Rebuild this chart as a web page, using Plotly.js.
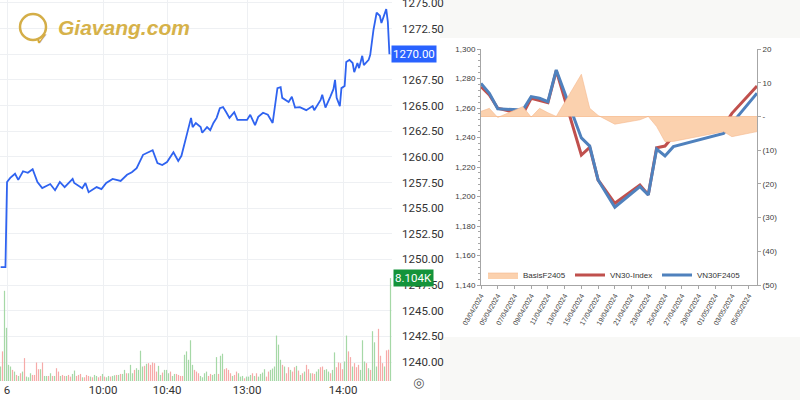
<!DOCTYPE html>
<html>
<head>
<meta charset="utf-8">
<script src="https://cdn.plot.ly/plotly-3.0.1.min.js"></script>
<style>
  html, body { margin: 0; padding: 0; background: #fff; }
  #chart { width: 800px; height: 400px; }
</style>
</head>
<body>
<div id="chart"></div>
<script>
// ---- left panel: intraday VN30F price (minute index from 9:00) ----
const priceMin = [-4, -1, 0, 2, 5, 7, 10, 13, 16, 19, 22, 27, 30, 33, 36, 41, 42, 47, 49, 51, 56, 59, 62, 66, 71, 75, 78, 81, 85, 88,
  91, 94, 97, 100, 104, 107, 109, 112, 115, 116, 118, 121, 122, 125, 127, 129, 131, 133, 135, 137, 139, 142, 144, 150, 152, 155, 157, 160, 163, 166,
  169, 171, 172, 176, 178, 180, 183, 187, 191, 192, 196, 197, 199, 202, 204, 205, 206, 208, 209, 211, 212, 214, 216, 217, 219, 220, 222, 223, 226, 227,
  229, 231, 233, 234, 237, 238, 239];
const priceVal = [1249.25, 1249.25, 1257.55, 1257.95, 1258.35, 1257.75, 1258.6, 1258.45, 1258.8, 1257.55, 1256.95, 1257.35, 1256.75, 1257.55, 1257.05, 1257.85, 1257.45, 1256.95, 1257.45, 1256.55, 1257.05, 1256.85, 1257.45, 1257.85, 1257.65, 1258.25, 1258.5, 1258.9, 1260.2, 1260.4,
  1260.65, 1259.4, 1259.2, 1259.5, 1260.45, 1259.6, 1260.1, 1261.95, 1263.8, 1262.9, 1263.3, 1262.9, 1262.35, 1262.9, 1262.6, 1263.3, 1263.8, 1264.75, 1264.85, 1264.35, 1263.8, 1264.35, 1263.6, 1263.6, 1264.1, 1263.1, 1263.9, 1264.3, 1264.1, 1263.3,
  1266.7, 1266.8, 1265.75, 1265.35, 1265.85, 1264.8, 1264.85, 1264.55, 1264.95, 1264.55, 1265.55, 1266.05, 1264.8, 1265.85, 1266.6, 1267.5, 1265.75, 1264.95, 1266.7, 1266.9, 1269.25, 1269.45, 1269.15, 1268.25, 1269.15, 1268.65, 1269.85, 1268.95, 1269.45, 1269.95,
  1272.35, 1274.05, 1273.75, 1273.05, 1274.4, 1273.15, 1270.0];

const timeTickVals = [0, 60, 100, 150, 210];
const timeTickText = ['6', '10:00', '10:40', '13:00', '14:00'];
const priceTicks = [1240, 1242.5, 1245, 1247.5, 1250, 1252.5, 1255, 1257.5, 1260, 1262.5, 1265, 1267.5, 1270, 1272.5, 1275];

// volume per bar (bar index), g = up bar, r = down bar
const volume = [1140, 2332, 7102, 4187, 1272, 1140, 875, 742, 477, 398, 610, 742, 1802, 345, 292, 610, 477, 477, 1458, 928,
  928, 1458, 398, 398, 398, 610, 398, 398, 1007, 742, 398, 477, 398, 398, 477, 345, 557, 822, 398, 477,
  557, 292, 292, 477, 398, 345, 292, 477, 398, 292, 398, 557, 345, 292, 398, 345, 398, 451, 477, 477,
  557, 557, 875, 610, 610, 1272, 610, 875, 1007, 875, 2385, 1140, 1193, 1352, 1405, 1272, 1458, 1405, 742, 1193,
  477, 663, 875, 875, 610, 742, 398, 557, 557, 477, 398, 398, 2067, 2332, 1670, 3207, 1272,
  875, 742, 610, 398, 292, 610, 742, 398, 557, 477, 557, 1882, 557, 1988, 2147, 928, 1007, 875, 610, 398,
  477, 742, 610, 345, 398, 212, 345, 345, 477, 610, 398, 610, 345, 557, 663, 928, 345, 742, 875, 981,
  1140, 3578, 2862, 1670, 1272, 1140, 610, 1087, 875, 742, 1087, 1193, 822, 477, 610, 742, 1272, 928, 610, 610,
  557, 742, 928, 1087, 1140, 875, 928, 742, 610, 875, 2253, 1087, 1458, 1405, 928, 1537, 3578, 2332, 1882, 1140,
  1405, 1087, 1272, 875, 3207, 1537, 1405, 1007, 875, 3922, 3048, 1140, 4108, 1988, 1405, 1140, 2412, 2465, 8104];
const volumeDir = ('grggggrgrg' + 'rgrgggrrrr' + 'grggrgrgrr' + 'grrgrrggrr' + 'rgrrrgrggr' + 'rgrggrggrg' + 'rggrgggrgg' + 'ggrgrrrrrg' + 'grgggrggrr' + 'rrggggg' +
  'rrrggggrrg' + 'ggrggrrrrg' + 'rrgggrgggr' + 'grggggrrgg' + 'ggggrgrrgr' + 'rgrgrgrrgr' + 'rggrrgggrg' + 'grrrrggrrg' + 'rrrgggrgrg' + 'ggrrrgrrg').split('');

// ---- right panel: VN30-Index vs VN30F2405 ----
const dates = ['2024-04-03', '2024-04-04', '2024-04-05', '2024-04-08', '2024-04-09', '2024-04-10', '2024-04-11', '2024-04-12', '2024-04-15', '2024-04-16',
  '2024-04-17', '2024-04-19', '2024-04-22', '2024-04-23', '2024-04-24', '2024-04-25', '2024-04-26', '2024-05-02', '2024-05-03', '2024-05-06'];
const vn30Index = [1274.4, 1268.8, 1259.8, 1255.9, 1266.6, 1265.0, 1263.6, 1285.3, 1228.1, 1233.3,
  1211.2, 1195.4, 1207.8, 1201.2, 1233.1, 1234.2, 1241.0, 1247.8, 1256.4, 1274.9];
const vn30F2405 = [1276.7, 1270.0, 1259.5, 1258.6, 1267.7, 1266.6, 1264.3, 1285.8, 1239.7, 1234.2,
  1211.2, 1192.7, 1206.7, 1201.0, 1232.2, 1227.5, 1233.8, 1242.8, 1249.6, 1270.0];
const basis = [1.5, 2.4, -0.3, 2.9, -0.2, 2.4, 1.1, 0.0, 12.5, 2.4,
  0.3, -2.3, -1.0, 0.0, -3.0, -7.5, -7.4, -4.5, -6.0, -4.5];
const basisTicks = [20, 10, 0, -10, -20, -30, -40, -50];
const basisTickText = basisTicks.map(v => v > 0 ? String(v) : v === 0 ? '-' : '(' + (-v) + ')');

const W = 800, H = 400;
const px = x => x / W;
const py = y => 1 - y / H;

const lastPrice = priceVal[priceVal.length - 1];
const lastVol = volume[volume.length - 1];

const traces = [
  {
    x: volume.map((_, i) => i), y: volume,
    type: 'bar', xaxis: 'x2', yaxis: 'y2', width: 0.6,
    marker: { color: volumeDir.map(d => d === 'g' ? '#a5d8a6' : '#f6aaa8'), line: { width: 0 } },
    showlegend: false, hoverinfo: 'skip',
  },
  {
    x: priceMin, y: priceVal,
    mode: 'lines', xaxis: 'x', yaxis: 'y',
    line: { color: '#2f63f0', width: 1.8 },
    showlegend: false,
  },
  {
    x: dates, y: basis, name: 'BasisF2405',
    mode: 'lines', fill: 'tozeroy', xaxis: 'x3', yaxis: 'y4',
    line: { color: '#f5b98e', width: 0.6 }, fillcolor: '#fbd1ae',
  },
  {
    x: dates, y: vn30Index, name: 'VN30-Index',
    mode: 'lines', xaxis: 'x3', yaxis: 'y3',
    line: { color: '#c0504d', width: 3 },
  },
  {
    x: dates, y: vn30F2405, name: 'VN30F2405',
    mode: 'lines', xaxis: 'x3', yaxis: 'y3',
    line: { color: '#4f81bd', width: 3 },
  },
];

const leftFont = { family: 'Liberation Sans Narrow, Roboto, Arial, sans-serif', size: 11.5, color: '#333' };
const xlFont = { family: 'Liberation Sans, Arial, sans-serif', size: 8, color: '#404040' };
const axisGrey = '#a6a6a6';

const layout = {
  width: W, height: H, autosize: false,
  margin: { t: 0, r: 0, b: 0, l: 0 },
  paper_bgcolor: '#ffffff',
  plot_bgcolor: 'rgba(0,0,0,0)',
  showlegend: true,
  xaxis: {
    domain: [0, px(392)], anchor: 'y', range: [-4.4, 240.6],
    tickvals: timeTickVals, ticktext: timeTickText, tickfont: leftFont,
    showgrid: true, gridcolor: '#eef0f3', zeroline: false, showline: false, ticks: '',
  },
  yaxis: {
    domain: [py(381), 1], anchor: 'x', side: 'right', range: [1238.15, 1275.29],
    tickvals: priceTicks,
    // the current-price box stands in for its own tick label
    ticktext: priceTicks.map(v => v === lastPrice ? '' : v.toFixed(2)),
    tickfont: leftFont, ticklabelstandoff: 9, ticklabeloverflow: 'allow',
    showgrid: true, gridcolor: '#eef0f3', zeroline: false, showline: false, ticks: '',
  },
  xaxis2: { overlaying: 'x', anchor: 'y2', range: [-0.25, 195.75], visible: false },
  yaxis2: { overlaying: 'y', anchor: 'x2', range: [0, 30000], visible: false },
  xaxis3: {
    domain: [px(481), px(757)], anchor: 'y3', type: 'date',
    range: ['2024-04-03', '2024-05-06'], tick0: '2024-04-03', dtick: 2 * 86400000,
    tickformat: '%d/%m/%Y', tickangle: -60, tickfont: { ...xlFont, size: 7 },
    showgrid: false, zeroline: false, showline: true, linecolor: axisGrey,
    ticks: 'outside', ticklen: 3, tickcolor: axisGrey,
  },
  yaxis3: {
    domain: [py(285), py(49)], anchor: 'x3', range: [1140, 1300], dtick: 20, tickformat: ',d',
    tickfont: xlFont, showgrid: false, zeroline: false, showline: true, linecolor: axisGrey,
    ticks: 'outside', ticklen: 3, tickcolor: axisGrey,
    minor: { ticks: 'outside', ticklen: 2, dtick: 4, tickcolor: axisGrey },
  },
  yaxis4: {
    overlaying: 'y3', anchor: 'x3', side: 'right', range: [-50, 20],
    tickvals: basisTicks, ticktext: basisTickText, tickfont: xlFont,
    showgrid: false, zeroline: true, zerolinecolor: '#f5b98e', zerolinewidth: 1,
    showline: true, linecolor: axisGrey, ticks: 'outside', ticklen: 3, tickcolor: axisGrey,
  },
  legend: {
    orientation: 'h', x: px(483), xanchor: 'left', y: py(275), yanchor: 'middle',
    font: { family: 'Liberation Sans, Arial, sans-serif', size: 8, color: '#333' },
    bgcolor: 'rgba(0,0,0,0)', itemwidth: 30, entrywidth: 42, traceorder: 'normal',
  },
  shapes: [
    { type: 'rect', xref: 'paper', yref: 'paper', x0: px(440), x1: 1, y0: py(38), y1: 1, fillcolor: '#f8f8f6', line: { width: 0 }, layer: 'below' },
    { type: 'rect', xref: 'paper', yref: 'paper', x0: px(440), x1: 1, y0: 0, y1: py(337), fillcolor: '#f8f8f6', line: { width: 0 }, layer: 'below' },
    { type: 'circle', xref: 'paper', yref: 'paper', x0: px(20), x1: px(46), y0: py(40), y1: py(14), line: { color: '#d4ae48', width: 2.5 } },
  ],
  annotations: [
    { xref: 'paper', yref: 'paper', x: px(33), y: py(27), text: '✓', showarrow: false,
      font: { family: 'DejaVu Sans', size: 17, color: '#cfa63e', weight: 'bold' } },
    { xref: 'paper', yref: 'paper', x: px(56), y: py(27), xanchor: 'left', yanchor: 'middle', text: 'Giavang.com', showarrow: false,
      font: { family: 'Liberation Sans, Arial', size: 21, color: '#d6b24a', weight: 'bold', style: 'italic' } },
    { xref: 'paper', yref: 'y', x: px(414), y: lastPrice, text: lastPrice.toFixed(2), showarrow: false,
      bgcolor: '#2962ff', borderpad: 1, font: { ...leftFont, color: '#ffffff' } },
    { xref: 'paper', yref: 'y2', x: px(414), y: lastVol, text: (lastVol / 1000).toFixed(3) + 'K', showarrow: false,
      bgcolor: '#14933a', borderpad: 1, font: { ...leftFont, color: '#ffffff' } },
    { xref: 'paper', yref: 'paper', x: px(418), y: py(392), text: '◎', showarrow: false,
      font: { family: 'DejaVu Sans', size: 13, color: '#555' } },
  ],
};

Plotly.newPlot('chart', traces, layout, { displayModeBar: false, staticPlot: true });
</script>
</body>
</html>
